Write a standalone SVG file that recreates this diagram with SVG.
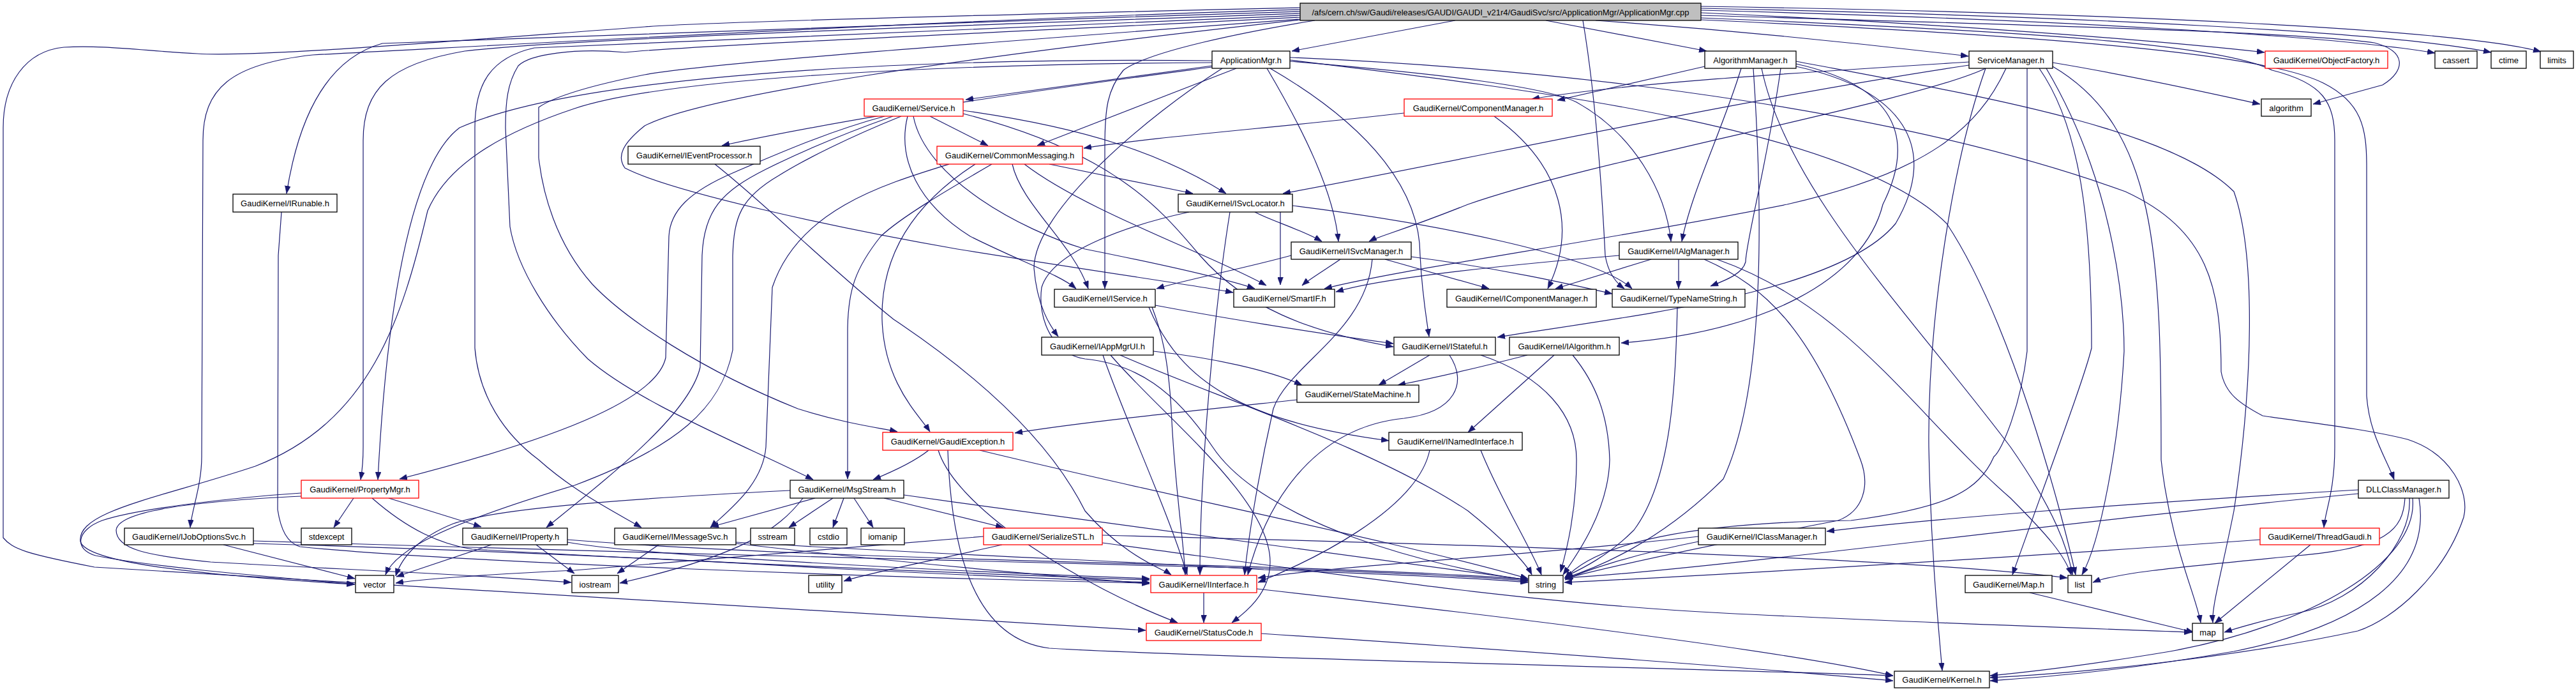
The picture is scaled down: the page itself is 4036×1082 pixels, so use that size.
<svg xmlns="http://www.w3.org/2000/svg" width="4036" height="1082" viewBox="0 0 4036 1082">
<style>
.n rect{fill:#fff;stroke:#000;stroke-width:1.3}
.n.r rect{stroke:#ff0000}
.n.root rect{fill:#bfbfbf}
text{font-family:"Liberation Sans",Arial,sans-serif;font-size:13px;text-anchor:middle;fill:#000}
#edges path{fill:none;stroke:#191970;stroke-width:1.2;marker-end:url(#a)}
</style>
<defs>
<marker id="a" viewBox="0 0 12 9" refX="12" refY="4.5" markerWidth="12" markerHeight="9" markerUnits="userSpaceOnUse" orient="auto">
<path d="M0,0 L12,4.5 L0,9 z" fill="#191970" stroke="#191970" stroke-width="0.5"/>
</marker>
</defs>
<rect width="4036" height="1082" fill="#fff"/>
<g id="edges">
<path d="M2280,32 L2024,80"/>
<path d="M2422,32 L2674,80"/>
<path d="M2500,32 C2750,50 2950,72 3084,88"/>
<path d="M2665,20 C3000,35 3350,60 3548,82"/>
<path d="M2665,16 C3200,30 3650,55 3815,83"/>
<path d="M2665,13 C3250,25 3750,50 3903,82"/>
<path d="M2665,10 C3300,20 3850,45 3981,81"/>
<path d="M2665,24 C3200,40 3600,50 3720,67 C3770,80 3770,110 3733,133 L3624,163"/>
<path d="M2665,28 C3200,50 3480,70 3560,110 C3640,130 3658,160 3658,220 L3658,700 C3658,770 3643,800 3641,826"/>
<path d="M2665,31 C3300,60 3560,90 3640,130 C3700,160 3708,200 3708,260 L3708,620 C3712,680 3740,720 3751,751"/>
<path d="M2037,12 C1600,22 1100,35 1010,42 C700,65 400,90 309,84 C230,80 160,70 100,74 C40,80 5,130 5,200 L5,842 C20,860 40,867 148,888 L1795,987"/>
<path d="M2037,15 C1500,30 800,70 490,86 C360,100 318,140 318,220 L316,715 C316,760 300,800 298,826"/>
<path d="M2037,18 C1500,35 900,55 599,68 C520,90 470,170 449,303"/>
<path d="M2037,21 C1500,40 900,60 728,80 C610,100 569,140 569,220 L569,700 C569,730 566,745 565,751"/>
<path d="M2037,24 C1500,48 950,70 837,75 C770,90 744,130 744,200 L744,545 C750,620 790,680 844,720 C900,770 960,800 1005,826"/>
<path d="M2037,27 C1600,50 1100,70 979,82 C900,75 830,85 812,103 C795,130 792,160 792,200 L799,355 C810,420 860,500 921,562 C1000,630 1150,690 1274,751"/>
<path d="M2037,30 C1500,70 1100,100 1010,117 C930,133 870,150 844,168 L844,247 C850,300 870,380 928,445 C980,500 1100,580 1250,640 C1330,665 1380,670 1406,676"/>
<path d="M2060,32 C1950,50 1800,80 1760,110 C1735,140 1731,170 1731,230 L1731,452"/>
<path d="M2037,31 C1500,90 1100,150 1010,197 C975,225 966,245 979,263 C1050,300 1300,355 1500,390 C1750,430 1880,448 1932,458"/>
<path d="M2480,32 C2500,150 2510,300 2515,400 C2520,430 2535,445 2545,452"/>
<path d="M1899,103 L1513,156"/>
<path d="M1899,105 C1750,125 1400,170 1131,228"/>
<path d="M1937,107 L1625,228"/>
<path d="M1915,107 C1800,180 1620,330 1620,420 C1625,480 1645,510 1658,527"/>
<path d="M1990,107 C2150,200 2225,300 2225,400 C2228,460 2235,500 2239,527"/>
<path d="M1985,107 C2040,200 2090,300 2097,378"/>
<path d="M2021,96 C2250,115 2420,135 2470,160 C2560,210 2610,300 2618,378"/>
<path d="M1899,95 C1400,90 900,120 720,200 C640,260 605,500 592,751"/>
<path d="M1899,98 C1500,100 1050,120 900,170 C780,210 700,260 670,330 C630,500 580,660 400,730 C250,780 120,800 126,848 C135,880 300,900 555,915"/>
<path d="M2021,94 C2400,140 2900,200 3050,350 C3150,500 3230,800 3252,900"/>
<path d="M2021,90 C2500,110 3000,180 3330,300 C3460,360 3480,450 3480,582 C3486,616 3509,632 3545,651 C3600,660 3700,670 3772,688 C3840,710 3870,770 3860,810 C3830,900 3750,970 3694,988 C3500,1030 3250,1055 3118,1061"/>
<path d="M1457,182 L1548,228"/>
<path d="M1509,173 C1700,200 1820,240 1921,303"/>
<path d="M1509,178 C1750,240 1820,330 1880,400 C1950,480 2050,520 2183,543"/>
<path d="M1422,182 C1405,250 1440,320 1520,370 C1600,410 1660,430 1686,452"/>
<path d="M1431,182 C1450,280 1600,360 1700,390 C1850,420 1930,440 1966,452"/>
<path d="M1386,182 C1300,205 1220,240 1150,270 C1080,300 1050,330 1048,370 L1043,560 C1030,620 900,680 626,750"/>
<path d="M1399,182 C1320,210 1250,240 1200,265 C1130,300 1103,330 1100,400 L1097,575 C1080,650 950,750 856,826"/>
<path d="M1412,182 C1330,215 1260,250 1220,275 C1160,310 1150,340 1148,400 L1148,548 C1130,640 1060,700 900,760 C700,820 620,860 604,900"/>
<path d="M1644,257 L1869,303"/>
<path d="M1554,257 C1480,300 1412,340 1380,370 C1340,420 1328,455 1328,520 L1328,750"/>
<path d="M1487,257 C1380,290 1250,330 1210,450 L1200,700 C1195,760 1140,800 1113,826"/>
<path d="M1586,257 C1600,320 1680,380 1705,452"/>
<path d="M1528,257 C1430,320 1380,400 1382,500 C1385,600 1440,650 1457,676"/>
<path d="M1605,257 C1700,330 1900,400 1984,447"/>
<path d="M2200,177 C2000,200 1800,215 1698,232"/>
<path d="M2341,182 C2450,260 2470,360 2425,452"/>
<path d="M2006,332 L2006,446"/>
<path d="M1966,332 C1990,345 2040,360 2071,378"/>
<path d="M1927,332 C1900,500 1880,750 1880,900"/>
<path d="M2025,322 C2250,350 2500,400 2557,452"/>
<path d="M1863,332 C1780,350 1650,390 1632,450 C1625,500 1650,555 1700,562 C1780,570 1840,610 1900,700 C1980,820 2250,890 2394,908"/>
<path d="M2100,406 C2080,420 2050,438 2040,447"/>
<path d="M2170,406 L2333,452"/>
<path d="M2211,402 C2350,420 2460,445 2526,460"/>
<path d="M2023,400 C1950,420 1850,440 1812,452"/>
<path d="M2150,406 C2140,520 2020,570 1995,640 C1970,750 1955,850 1950,900"/>
<path d="M2537,400 C2300,420 2150,440 2093,457"/>
<path d="M2587,406 L2437,452"/>
<path d="M2630,406 L2630,452"/>
<path d="M2670,406 C2770,450 2840,520 2915,720 C2930,760 2920,800 2880,815 C2750,840 2550,880 2452,906"/>
<path d="M2690,406 C2900,480 3000,650 3150,780 C3210,840 3235,870 3245,900"/>
<path d="M1810,478 C1900,495 2050,520 2183,538"/>
<path d="M1800,481 C1850,600 1950,660 2176,690"/>
<path d="M1805,481 C1820,520 1830,560 1835,640 C1840,760 1855,850 1857,900"/>
<path d="M1807,550 C1900,560 1990,580 2040,603"/>
<path d="M1728,556 C1760,650 1830,800 1860,900"/>
<path d="M1740,556 C1820,650 1990,780 1990,880 C1990,930 1950,960 1930,975"/>
<path d="M1755,556 C1900,620 2150,700 2300,800 C2350,840 2390,880 2400,900"/>
<path d="M2240,556 L2160,603"/>
<path d="M2271,556 C2300,600 2280,645 2200,655 C2050,670 1980,800 1955,900"/>
<path d="M2320,556 C2420,590 2470,650 2470,720 C2470,800 2455,860 2445,896"/>
<path d="M2393,556 C2300,580 2230,595 2190,603"/>
<path d="M2435,556 L2300,677"/>
<path d="M2464,556 C2500,600 2520,650 2522,720 C2520,800 2470,870 2449,900"/>
<path d="M2240,705 C2220,800 2050,880 1971,912"/>
<path d="M2320,705 C2350,780 2400,860 2415,900"/>
<path d="M2032,626 C1900,640 1700,660 1590,678"/>
<path d="M2628,481 C2625,600 2620,750 2560,830 C2520,870 2480,890 2452,903"/>
<path d="M1455,705 C1430,725 1395,740 1368,751"/>
<path d="M1535,705 C1800,770 2200,850 2394,906"/>
<path d="M1485,705 C1490,850 1520,1000 1644,1015 C1900,1030 2600,1045 2966,1058"/>
<path d="M1470,705 C1500,800 1700,920 1845,975"/>
<path d="M1277,780 L1114,825"/>
<path d="M1305,780 L1236,826"/>
<path d="M1322,780 L1305,826"/>
<path d="M1338,780 L1368,826"/>
<path d="M1385,780 L1572,826"/>
<path d="M1238,768 C1000,780 780,795 710,820 C660,840 630,870 620,902"/>
<path d="M1258,780 C1220,830 1160,870 971,913"/>
<path d="M1416,775 C1800,830 2200,880 2394,908"/>
<path d="M350,853 L556,906"/>
<path d="M397,851 C700,860 1000,872 1300,890 C1600,905 1750,910 1801,912"/>
<path d="M397,847 C900,865 1700,880 1980,890 C2200,897 2350,905 2394,910"/>
<path d="M770,853 L621,903"/>
<path d="M840,853 L900,898"/>
<path d="M889,849 C1000,870 1500,895 1801,906"/>
<path d="M889,845 C1200,870 1700,880 1980,888 C2200,895 2350,903 2394,908"/>
<path d="M1032,853 L967,898"/>
<path d="M1153,851 C1400,880 1650,902 1801,914"/>
<path d="M1153,849 C1500,870 1800,880 1980,892 C2200,900 2350,908 2394,912"/>
<path d="M1570,853 C1450,880 1350,900 1322,910"/>
<path d="M1541,840 C1300,860 1000,885 900,893 C750,900 650,908 620,913"/>
<path d="M1727,838 C2400,855 3000,875 3239,905"/>
<path d="M1727,850 C2100,900 2400,945 2700,960 C3000,975 3300,985 3434,990"/>
<path d="M3695,767 C3300,790 3000,815 2862,832"/>
<path d="M3695,773 C3200,820 2700,890 2451,905"/>
<path d="M3768,780 C3765,830 3740,858 3600,870 C3450,885 3320,895 3279,912"/>
<path d="M3775,780 C3780,850 3700,940 3600,960 C3550,970 3500,985 3485,990"/>
<path d="M3780,780 C3790,880 3620,980 3400,1020 C3250,1045 3150,1055 3118,1058"/>
<path d="M3790,780 C3810,900 3700,980 3500,1020 C3300,1055 3170,1062 3118,1066"/>
<path d="M3541,845 C3200,870 2700,900 2451,912"/>
<path d="M3620,853 L3470,976"/>
<path d="M2661,848 C2550,870 2480,895 2452,908"/>
<path d="M2661,840 C2400,870 2100,885 1971,905"/>
<path d="M3180,928 L3437,990"/>
<path d="M1886,928 L1886,975"/>
<path d="M1969,922 C2400,970 2800,1020 2966,1058"/>
<path d="M1976,992 C2400,1020 2800,1050 2966,1066"/>
<path d="M554,780 L523,826"/>
<path d="M609,780 L754,825"/>
<path d="M472,772 C380,778 220,795 160,815 C120,830 115,860 150,870 C250,890 450,905 556,915"/>
<path d="M472,777 C300,785 185,800 182,830 C182,860 230,870 330,880 C500,890 750,900 895,912"/>
<path d="M583,780 C640,830 690,852 740,860 C1000,875 1500,898 1801,908"/>
<path d="M441,332 L436,400 L435,798 C440,830 450,850 470,856 C700,880 1400,905 1801,913"/>
<path d="M1120,257 C1200,320 1300,420 1400,500 C1550,600 1650,700 1700,800 C1760,870 1820,890 1835,900"/>
<path d="M2671,104 L2440,157"/>
<path d="M2728,107 C2700,200 2650,300 2635,378"/>
<path d="M2814,100 C2950,130 3010,200 2950,320 C2920,440 2760,520 2540,537"/>
<path d="M2814,104 C2980,140 3040,230 2970,350 C2880,460 2550,495 2346,528"/>
<path d="M2790,107 C2770,250 2735,380 2735,410 C2730,430 2700,440 2680,448"/>
<path d="M2747,107 C2760,300 2770,600 2700,750 C2600,850 2500,890 2452,905"/>
<path d="M2760,107 C2800,300 3000,500 3150,700 C3220,800 3240,860 3247,900"/>
<path d="M2814,96 C3100,150 3400,200 3500,300 C3535,400 3530,600 3500,800 C3480,900 3465,950 3467,975"/>
<path d="M3216,98 C3350,120 3480,150 3541,163"/>
<path d="M3085,97 C2800,115 2550,130 2400,155"/>
<path d="M3085,102 C2700,160 2300,250 2010,303"/>
<path d="M3111,107 C3000,160 2500,250 2300,320 C2200,360 2160,370 2145,378"/>
<path d="M3143,107 C3100,200 3020,270 2800,320 C2500,380 2200,420 2075,452"/>
<path d="M3176,107 L3176,550 C3166,635 3137,705 3124,715 C3100,770 3050,795 2900,815 C2650,818 2500,850 2452,906"/>
<path d="M3195,107 C3260,200 3277,350 3277,545 C3266,590 3221,710 3153,900"/>
<path d="M3206,107 C3320,300 3328,500 3328,550 C3320,700 3290,850 3262,900"/>
<path d="M3216,104 C3380,200 3386,400 3386,720 C3400,850 3440,930 3448,975"/>
<path d="M3111,107 C3060,250 3020,500 3022,700 C3025,850 3035,960 3043,1050"/>
</g>
<g id="node-root" class="n root"><rect x="2037" y="5" width="628" height="27"/><text x="2351" y="23.5">/afs/cern.ch/sw/Gaudi/releases/GAUDI/GAUDI_v21r4/GaudiSvc/src/ApplicationMgr/ApplicationMgr.cpp</text></g>
<g id="node-ApplicationMgr" class="n"><rect x="1899" y="80" width="122" height="27"/><text x="1960" y="98.5">ApplicationMgr.h</text></g>
<g id="node-AlgorithmManager" class="n"><rect x="2671" y="80" width="143" height="27"/><text x="2742.5" y="98.5">AlgorithmManager.h</text></g>
<g id="node-ServiceManager" class="n"><rect x="3085" y="80" width="131" height="27"/><text x="3150.5" y="98.5">ServiceManager.h</text></g>
<g id="node-ObjectFactory" class="n r"><rect x="3549" y="80" width="192" height="27"/><text x="3645" y="98.5">GaudiKernel/ObjectFactory.h</text></g>
<g id="node-cassert" class="n"><rect x="3815" y="80" width="66" height="27"/><text x="3848" y="98.5">cassert</text></g>
<g id="node-ctime" class="n"><rect x="3903" y="80" width="55" height="27"/><text x="3930.5" y="98.5">ctime</text></g>
<g id="node-limits" class="n"><rect x="3980" y="80" width="52" height="27"/><text x="4006" y="98.5">limits</text></g>
<g id="node-Service" class="n r"><rect x="1354" y="155" width="155" height="27"/><text x="1431.5" y="173.5">GaudiKernel/Service.h</text></g>
<g id="node-ComponentManager" class="n r"><rect x="2200" y="155" width="232" height="27"/><text x="2316" y="173.5">GaudiKernel/ComponentManager.h</text></g>
<g id="node-algorithm" class="n"><rect x="3543" y="155" width="78" height="27"/><text x="3582" y="173.5">algorithm</text></g>
<g id="node-IEventProcessor" class="n"><rect x="984" y="229" width="207" height="28"/><text x="1087.5" y="248">GaudiKernel/IEventProcessor.h</text></g>
<g id="node-CommonMessaging" class="n r"><rect x="1468" y="229" width="228" height="28"/><text x="1582" y="248">GaudiKernel/CommonMessaging.h</text></g>
<g id="node-IRunable" class="n"><rect x="365" y="304" width="163" height="28"/><text x="446.5" y="323">GaudiKernel/IRunable.h</text></g>
<g id="node-ISvcLocator" class="n"><rect x="1846" y="304" width="179" height="28"/><text x="1935.5" y="323">GaudiKernel/ISvcLocator.h</text></g>
<g id="node-ISvcManager" class="n"><rect x="2023" y="379" width="188" height="27"/><text x="2117" y="397.5">GaudiKernel/ISvcManager.h</text></g>
<g id="node-IAlgManager" class="n"><rect x="2537" y="379" width="186" height="27"/><text x="2630" y="397.5">GaudiKernel/IAlgManager.h</text></g>
<g id="node-IService" class="n"><rect x="1652" y="453" width="158" height="28"/><text x="1731" y="472">GaudiKernel/IService.h</text></g>
<g id="node-SmartIF" class="n"><rect x="1933" y="453" width="158" height="28"/><text x="2012" y="472">GaudiKernel/SmartIF.h</text></g>
<g id="node-IComponentManager" class="n"><rect x="2267" y="453" width="234" height="28"/><text x="2384" y="472">GaudiKernel/IComponentManager.h</text></g>
<g id="node-TypeNameString" class="n"><rect x="2526" y="453" width="208" height="28"/><text x="2630" y="472">GaudiKernel/TypeNameString.h</text></g>
<g id="node-IAppMgrUI" class="n"><rect x="1632" y="528" width="175" height="28"/><text x="1719.5" y="547">GaudiKernel/IAppMgrUI.h</text></g>
<g id="node-IStateful" class="n"><rect x="2184" y="528" width="159" height="28"/><text x="2263.5" y="547">GaudiKernel/IStateful.h</text></g>
<g id="node-IAlgorithm" class="n"><rect x="2365" y="528" width="172" height="28"/><text x="2451" y="547">GaudiKernel/IAlgorithm.h</text></g>
<g id="node-StateMachine" class="n"><rect x="2032" y="603" width="191" height="27"/><text x="2127.5" y="621.5">GaudiKernel/StateMachine.h</text></g>
<g id="node-GaudiException" class="n r"><rect x="1383" y="677" width="204" height="28"/><text x="1485" y="696">GaudiKernel/GaudiException.h</text></g>
<g id="node-INamedInterface" class="n"><rect x="2176" y="677" width="209" height="28"/><text x="2280.5" y="696">GaudiKernel/INamedInterface.h</text></g>
<g id="node-PropertyMgr" class="n r"><rect x="472" y="752" width="184" height="28"/><text x="564" y="771">GaudiKernel/PropertyMgr.h</text></g>
<g id="node-MsgStream" class="n"><rect x="1238" y="752" width="178" height="28"/><text x="1327" y="771">GaudiKernel/MsgStream.h</text></g>
<g id="node-DLLClassManager" class="n"><rect x="3695" y="752" width="142" height="28"/><text x="3766" y="771">DLLClassManager.h</text></g>
<g id="node-IJobOptionsSvc" class="n"><rect x="195" y="827" width="202" height="26"/><text x="296" y="845">GaudiKernel/IJobOptionsSvc.h</text></g>
<g id="node-stdexcept" class="n"><rect x="472" y="827" width="79" height="26"/><text x="511.5" y="845">stdexcept</text></g>
<g id="node-IProperty" class="n"><rect x="725" y="827" width="164" height="26"/><text x="807" y="845">GaudiKernel/IProperty.h</text></g>
<g id="node-IMessageSvc" class="n"><rect x="963" y="827" width="190" height="26"/><text x="1058" y="845">GaudiKernel/IMessageSvc.h</text></g>
<g id="node-sstream" class="n"><rect x="1176" y="827" width="69" height="26"/><text x="1210.5" y="845">sstream</text></g>
<g id="node-cstdio" class="n"><rect x="1269" y="827" width="58" height="26"/><text x="1298" y="845">cstdio</text></g>
<g id="node-iomanip" class="n"><rect x="1349" y="827" width="68" height="26"/><text x="1383" y="845">iomanip</text></g>
<g id="node-SerializeSTL" class="n r"><rect x="1541" y="827" width="186" height="26"/><text x="1634" y="845">GaudiKernel/SerializeSTL.h</text></g>
<g id="node-IClassManager" class="n"><rect x="2661" y="827" width="199" height="26"/><text x="2760.5" y="845">GaudiKernel/IClassManager.h</text></g>
<g id="node-ThreadGaudi" class="n r"><rect x="3541" y="827" width="187" height="26"/><text x="3634.5" y="845">GaudiKernel/ThreadGaudi.h</text></g>
<g id="node-vector" class="n"><rect x="557" y="901" width="60" height="27"/><text x="587" y="919.5">vector</text></g>
<g id="node-iostream" class="n"><rect x="896" y="901" width="73" height="27"/><text x="932.5" y="919.5">iostream</text></g>
<g id="node-utility" class="n"><rect x="1267" y="901" width="52" height="27"/><text x="1293" y="919.5">utility</text></g>
<g id="node-IInterface" class="n r"><rect x="1803" y="901" width="166" height="27"/><text x="1886" y="919.5">GaudiKernel/IInterface.h</text></g>
<g id="node-string" class="n"><rect x="2395" y="901" width="54" height="27"/><text x="2422" y="919.5">string</text></g>
<g id="node-Map" class="n"><rect x="3079" y="901" width="136" height="27"/><text x="3147" y="919.5">GaudiKernel/Map.h</text></g>
<g id="node-list" class="n"><rect x="3240" y="901" width="37" height="27"/><text x="3258.5" y="919.5">list</text></g>
<g id="node-StatusCode" class="n r"><rect x="1796" y="976" width="180" height="27"/><text x="1886" y="994.5">GaudiKernel/StatusCode.h</text></g>
<g id="node-map" class="n"><rect x="3435" y="976" width="48" height="27"/><text x="3459" y="994.5">map</text></g>
<g id="node-Kernel" class="n"><rect x="2968" y="1051" width="149" height="26"/><text x="3042.5" y="1069">GaudiKernel/Kernel.h</text></g>
</svg>
